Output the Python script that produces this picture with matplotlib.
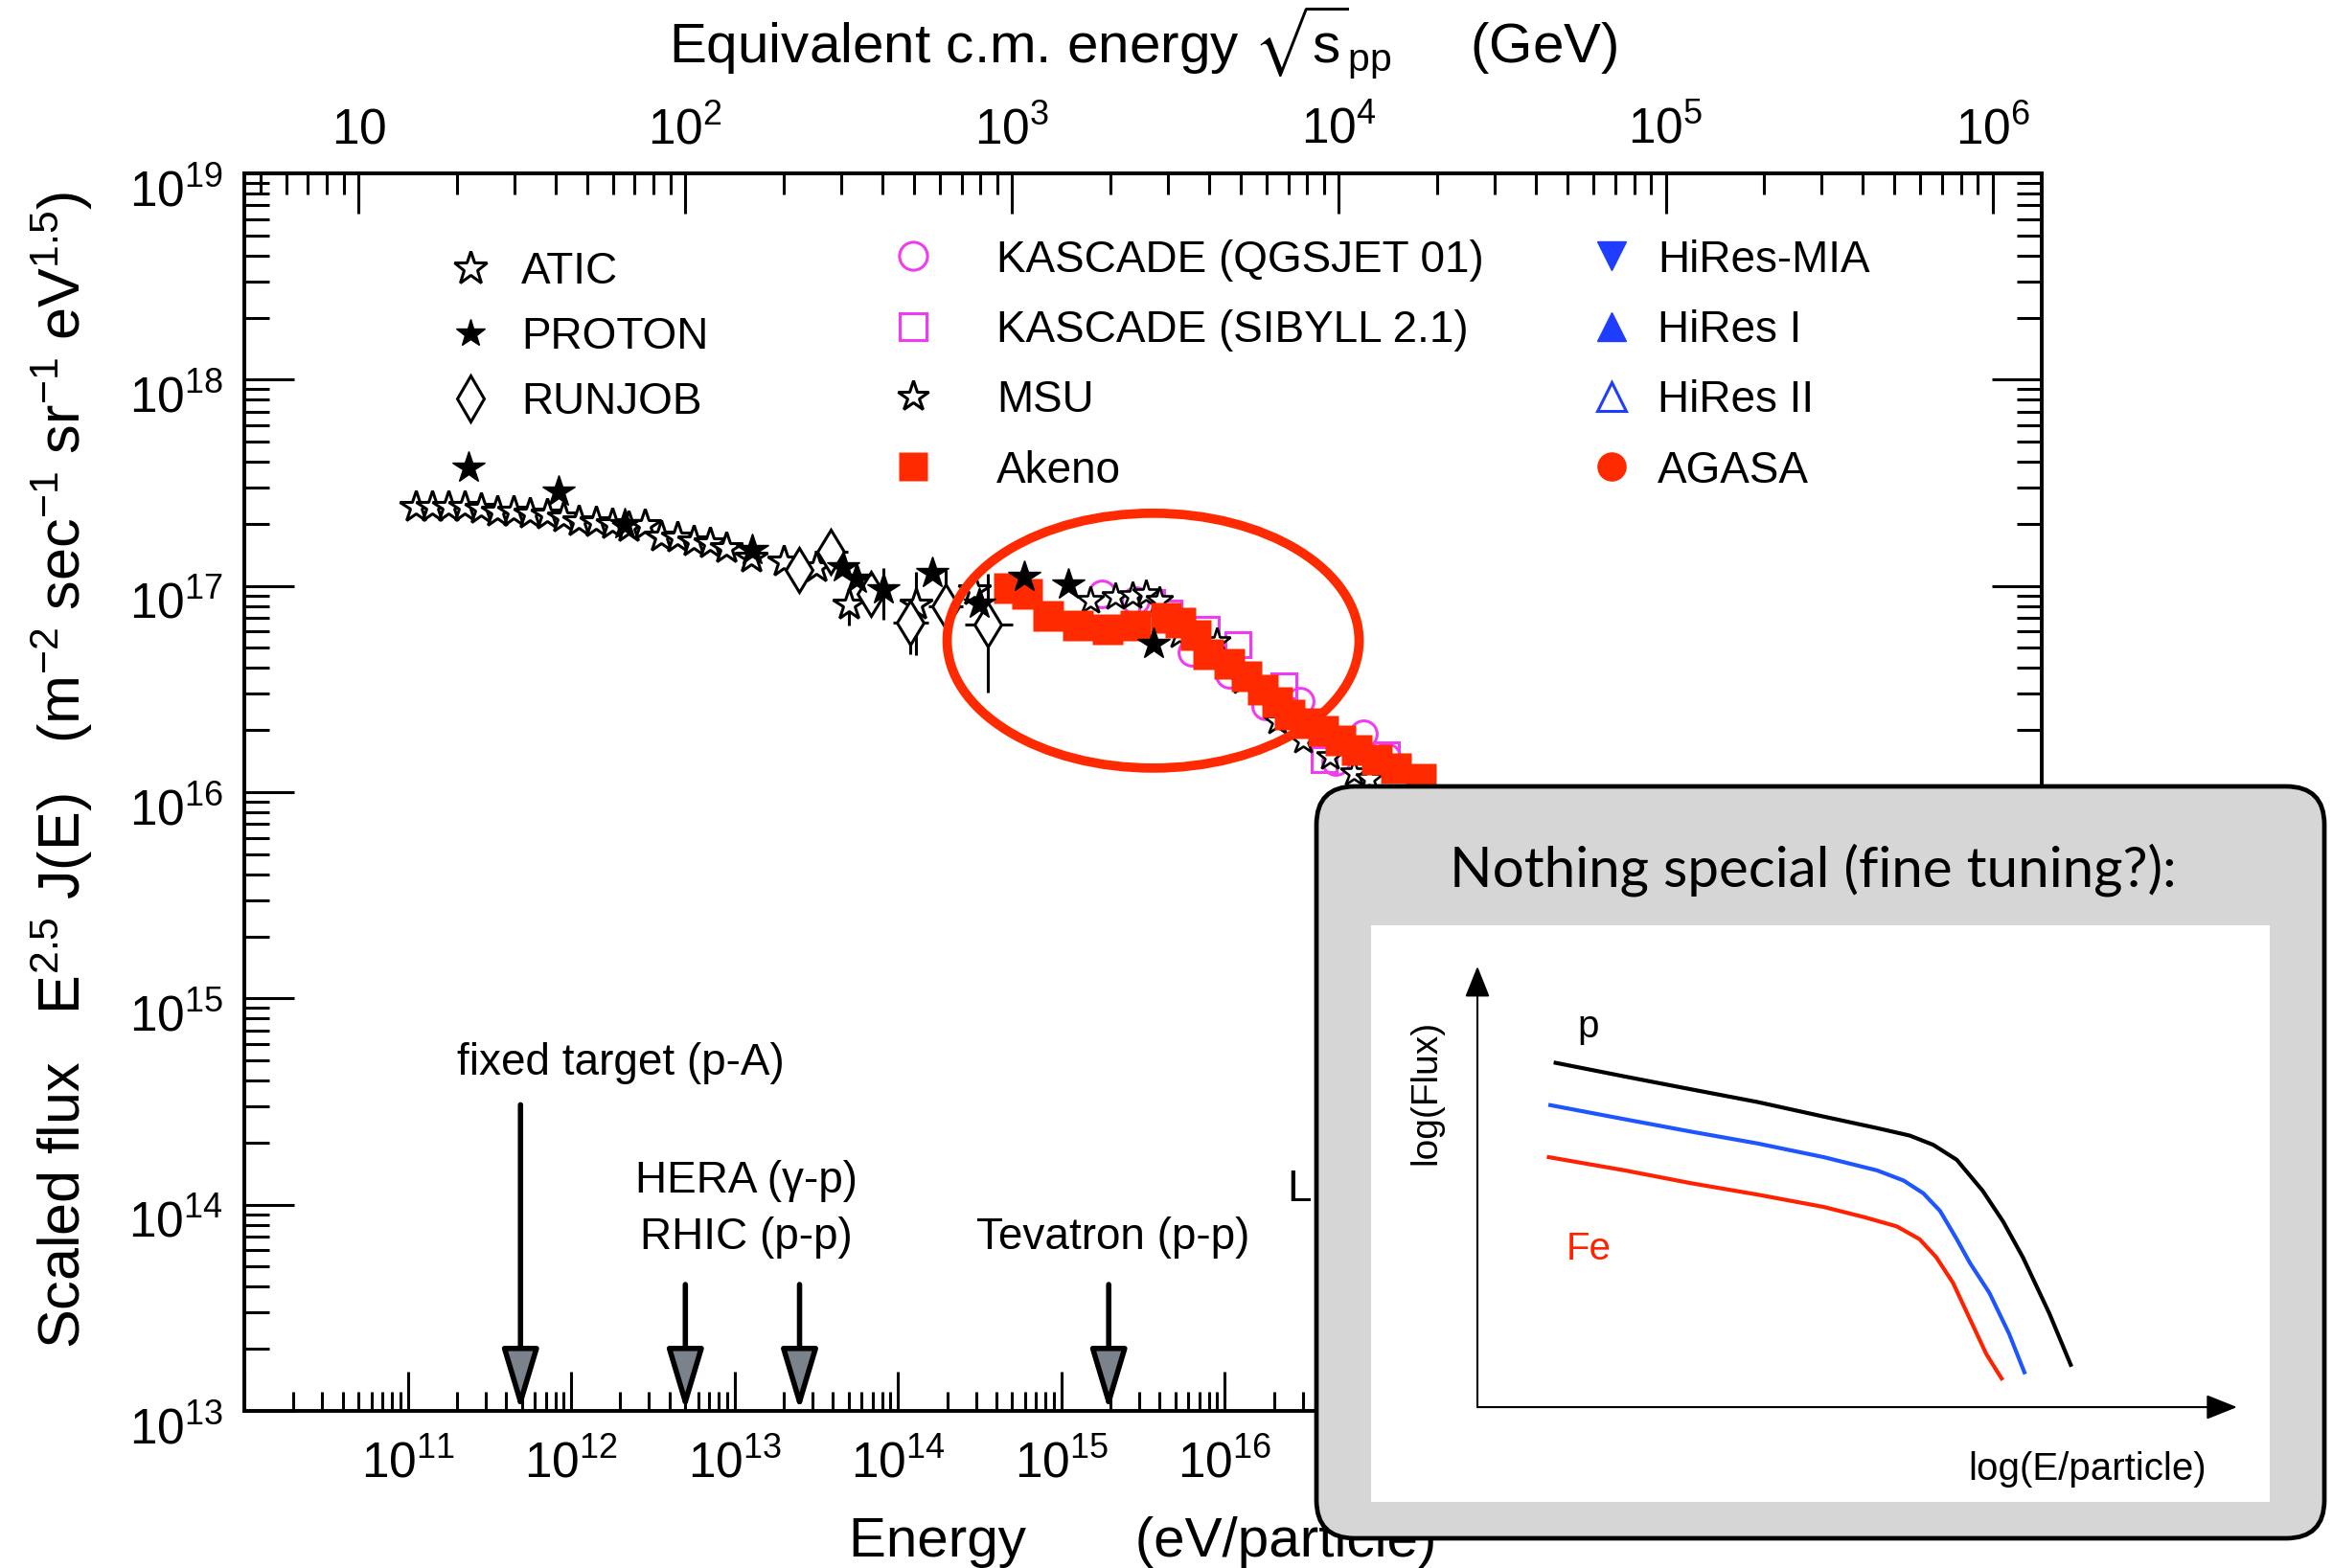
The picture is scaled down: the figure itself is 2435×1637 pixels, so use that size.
import numpy as np
import matplotlib
matplotlib.use("Agg")
import matplotlib.pyplot as plt
from matplotlib import ticker, transforms
from matplotlib.lines import Line2D
from matplotlib.patches import Ellipse, FancyBboxPatch

plt.rcParams["font.family"] = ["Liberation Sans", "DejaVu Sans"]
plt.rcParams["mathtext.fontset"] = "custom"
plt.rcParams["mathtext.rm"] = "Liberation Sans"
plt.rcParams["mathtext.it"] = "Liberation Sans:italic"
plt.rcParams["mathtext.bf"] = "Liberation Sans:bold"
plt.rcParams["mathtext.sf"] = "Liberation Sans"
plt.rcParams["mathtext.default"] = "regular"
plt.rcParams["mathtext.fallback"] = "stixsans"

# ---- data (E in eV/particle, scaled flux E^2.5 J(E)) ----
atic_E = [1.12e11, 1.41e11, 1.78e11, 2.24e11, 2.82e11, 3.55e11, 4.47e11, 5.62e11,
          7.08e11, 8.91e11, 1.12e12, 1.41e12, 1.78e12, 2.24e12, 2.82e12, 3.55e12,
          4.47e12, 5.62e12, 7.08e12, 8.91e12, 1.26e13, 2.00e13, 3.16e13]
atic_F = [2.42e17, 2.42e17, 2.42e17, 2.42e17, 2.37e17, 2.30e17, 2.29e17, 2.25e17,
          2.23e17, 2.15e17, 2.07e17, 2.04e17, 2.00e17, 1.94e17, 1.98e17, 1.74e17,
          1.71e17, 1.65e17, 1.62e17, 1.53e17, 1.38e17, 1.31e17, 1.24e17]
# last ATIC points, with error bars
atic_hi_E = [5.0e13, 1.29e14, 2.95e14]
atic_hi_F = [8.1e16, 8.1e16, 9.5e16]
atic_hi_lo = [6.4e16, 4.6e16, 9.5e16]
atic_hi_up = [8.1e16, 1.17e17, 9.5e16]

proton_E = [2.36e11, 8.43e11, 2.12e12, 1.29e13, 4.63e13, 5.55e13, 8.13e13,
            1.63e14, 3.14e14, 5.89e14, 1.11e15, 3.68e15]
proton_F = [3.76e17, 2.88e17, 2.00e17, 1.50e17, 1.24e17, 1.08e17, 9.66e16,
            1.16e17, 8.24e16, 1.11e17, 1.02e17, 5.27e16]
proton_lo = [3.76e17, 2.88e17, 2.00e17, 1.50e17, 1.24e17, 1.08e17, 6.89e16,
             1.16e17, 8.24e16, 1.11e17, 1.02e17, 5.27e16]
proton_up = [3.76e17, 2.88e17, 2.00e17, 1.50e17, 1.24e17, 1.08e17, 1.22e17,
             1.16e17, 8.24e16, 1.11e17, 1.02e17, 5.27e16]

runjob_E = [2.47e13, 3.90e13, 6.79e13, 1.19e14, 1.95e14, 3.56e14]
runjob_F = [1.20e17, 1.46e17, 9.16e16, 6.65e16, 7.94e16, 6.53e16]
runjob_Elo = [2.47e13, 3.09e13, 6.79e13, 9.31e13, 1.53e14, 2.56e14]
runjob_Ehi = [2.47e13, 4.95e13, 6.79e13, 1.53e14, 2.51e14, 5.04e14]
runjob_Flo = [1.20e17, 1.46e17, 7.66e16, 4.66e16, 5.18e16, 3.03e16]
runjob_Fhi = [1.20e17, 1.46e17, 1.06e17, 8.24e16, 1.20e17, 1.14e17]

kq_E = [1.78e15, 2.82e15, 6.31e15, 1.07e16, 1.78e16, 2.88e16, 4.79e16, 7.08e16, 9.77e16]
kq_F = [9.12e16, 8.51e16, 4.79e16, 3.72e16, 2.63e16, 2.75e16, 1.41e16, 1.91e16, 1.48e16]

ks_E = [3.55e15, 4.57e15, 7.71e15, 1.21e16, 2.29e16, 4.04e16, 9.70e16]
ks_F = [8.32e16, 7.40e16, 6.19e16, 5.18e16, 3.26e16, 1.44e16, 1.52e16]

msu_E = [1.50e15, 2.15e15, 2.72e15, 3.29e15, 3.98e15, 5.25e15, 8.91e15, 1.29e16,
         2.09e16, 3.02e16, 4.37e16, 6.17e16, 7.67e16]
msu_F = [8.53e16, 8.85e16, 8.99e16, 9.16e16, 8.53e16, 5.77e16, 5.37e16, 3.44e16,
         2.20e16, 1.78e16, 1.49e16, 1.24e16, 1.16e16]

akeno_E = [4.79e14, 6.17e14, 8.32e14, 1.26e15, 1.91e15, 2.82e15, 4.37e15, 5.37e15,
           6.61e15, 7.94e15, 1.07e16, 1.35e16, 1.70e16, 2.09e16, 2.51e16, 3.16e16,
           3.98e16, 5.13e16, 6.46e16, 8.51e16, 1.12e17, 1.58e17]
akeno_F = [9.73e16, 9.16e16, 7.14e16, 6.41e16, 6.19e16, 6.41e16, 7.01e16, 6.64e16,
           5.77e16, 4.66e16, 4.19e16, 3.63e16, 3.15e16, 2.72e16, 2.37e16, 2.16e16,
           1.98e16, 1.78e16, 1.60e16, 1.44e16, 1.31e16, 1.16e16]

# accelerator energies (lab frame)
collider_E = [4.9e11, 5.0e12, 2.5e13, 1.95e15, 9.8e16]
collider_top = [3.05e14, 4.1e13, 4.1e13, 4.1e13, 4.1e13]
collider_labels = ["fixed target (p-A)", "HERA (γ-p)", "RHIC (p-p)", "Tevatron (p-p)", "LHC (p-p)"]
label_E = [2.0e12, 1.18e13, 1.18e13, 2.07e15, 9.5e16]
label_F = [4.28e14, 1.15e14, 6.08e13, 6.08e13, 1.045e14]

# sketch in the inset (arbitrary log units)
p_u = [1.03, 1.94, 2.81, 3.69, 4.56, 5.26, 5.69, 6.00, 6.31, 6.65, 6.92, 7.18, 7.53, 7.81]
p_v = [7.81, 7.50, 7.21, 6.92, 6.59, 6.33, 6.16, 5.95, 5.61, 4.91, 4.21, 3.40, 2.12, 0.96]
mid_u = [0.96, 1.94, 2.81, 3.69, 4.56, 5.26, 5.61, 5.87, 6.09, 6.31, 6.48, 6.74, 7.00, 7.20]
mid_v = [6.85, 6.53, 6.25, 5.98, 5.67, 5.37, 5.14, 4.85, 4.45, 3.81, 3.28, 2.59, 1.66, 0.79]
fe_u = [0.94, 1.94, 2.81, 3.69, 4.56, 5.09, 5.52, 5.82, 6.04, 6.26, 6.48, 6.70, 6.90]
fe_v = [5.67, 5.37, 5.08, 4.82, 4.54, 4.31, 4.10, 3.81, 3.40, 2.82, 2.01, 1.20, 0.65]

RED = "#ff2a00"
MAGENTA = "#f03cf0"
BLUE = "#1f3dff"
W, H = 2435, 1637


def errs(v, lo, hi):
    v, lo, hi = np.array(v), np.array(lo), np.array(hi)
    return [v - lo, hi - v]


def pow10(v, pos):
    return rf"$10^{{{int(round(np.log10(v)))}}}$"


fig = plt.figure(figsize=(W / 100, H / 100), dpi=100)
ax = fig.add_axes([255 / W, 1 - 1473 / H, 1876 / W, 1292 / H])
ax.set_xscale("log")
ax.set_yscale("log")
ax.set_xlim(1e10, 1e21)
ax.set_ylim(1e13, 1e19)

star_open = dict(marker="*", mfc="white", mec="black", mew=2.2)

ax.plot(atic_E, atic_F, ls="none", ms=25, zorder=3, **star_open)
ax.errorbar(atic_hi_E, atic_hi_F, yerr=errs(atic_hi_F, atic_hi_lo, atic_hi_up),
            fmt="*", ms=25, mfc="white", mec="black", mew=2.2, ecolor="black",
            elinewidth=2.2, capsize=0, zorder=3)
ax.errorbar(runjob_E, runjob_F, xerr=errs(runjob_E, runjob_Elo, runjob_Ehi),
            yerr=errs(runjob_F, runjob_Flo, runjob_Fhi), fmt="d", ms=23,
            mfc="white", mec="black", mew=2.2, ecolor="black", elinewidth=2.2,
            capsize=0, zorder=3)
ax.plot(kq_E, kq_F, ls="none", marker="o", ms=20, mfc="none", mec=MAGENTA, mew=2.2, zorder=4)
ax.plot(ks_E, ks_F, ls="none", marker="s", ms=19, mfc="none", mec=MAGENTA, mew=2.2, zorder=4)
ax.plot(msu_E, msu_F, ls="none", marker="*", ms=21, mfc="white", mec="black", mew=1.9, zorder=4)
ax.plot(akeno_E, akeno_F, ls="none", marker="s", ms=23, color=RED, mec="none", zorder=5)
ax.errorbar(proton_E, proton_F, yerr=errs(proton_F, proton_lo, proton_up), fmt="*",
            ms=25, color="black", ecolor="black", elinewidth=2.2, capsize=0, zorder=6)

# the knee highlight
ax.add_patch(Ellipse((0.5056, 0.6224), 0.2292, 0.2059, transform=ax.transAxes,
                     fill=False, ec=RED, lw=7, zorder=7))

# accelerator arrows
for e, top in zip(collider_E, collider_top):
    ax.annotate("", xy=(e, 1e13), xytext=(e, top),
                arrowprops=dict(arrowstyle="-|>,head_length=2.0,head_width=0.6",
                                mutation_scale=20, lw=4, fc="#7a828b", ec="black",
                                shrinkA=0, shrinkB=0), zorder=3)
for s, e, f in zip(collider_labels, label_E, label_F):
    ax.text(e, f, s, ha="center", va="baseline", fontsize=33)

# axes styling
for sp in ax.spines.values():
    sp.set_linewidth(2.8)
ax.xaxis.set_major_locator(ticker.FixedLocator([10.0 ** k for k in range(10, 22)]))
ax.xaxis.set_minor_locator(ticker.LogLocator(base=10, subs=np.arange(2, 10), numticks=100))
ax.xaxis.set_major_formatter(ticker.FuncFormatter(
    lambda v, p: pow10(v, p) if 11 <= round(np.log10(v)) <= 20 else ""))
ax.xaxis.set_minor_formatter(ticker.NullFormatter())
ax.yaxis.set_major_locator(ticker.FixedLocator([10.0 ** k for k in range(13, 20)]))
ax.yaxis.set_minor_locator(ticker.LogLocator(base=10, subs=np.arange(2, 10), numticks=100))
ax.yaxis.set_major_formatter(ticker.FuncFormatter(pow10))
ax.yaxis.set_minor_formatter(ticker.NullFormatter())

ax.tick_params(which="both", direction="in", top=False, right=True, width=2.2, labelsize=37)
ax.tick_params(axis="x", which="major", length=29.5, pad=22)
ax.tick_params(axis="x", which="minor", length=14.4)
ax.tick_params(axis="y", which="major", length=37.4, pad=15.8)
ax.tick_params(axis="y", which="minor", length=18.7)

secax = ax.secondary_xaxis("top", functions=(lambda e: np.sqrt(2.0 * np.abs(e) / 1e9),
                                             lambda s: s ** 2 * 1e9 / 2.0))
secax.spines["top"].set_linewidth(2.8)
secax.xaxis.set_major_locator(ticker.FixedLocator([10.0 ** k for k in range(1, 7)]))
secax.xaxis.set_minor_locator(ticker.LogLocator(base=10, subs=np.arange(2, 10), numticks=100))
secax.xaxis.set_major_formatter(ticker.FuncFormatter(
    lambda v, p: "$10$" if round(np.log10(v)) == 1 else pow10(v, p)))
secax.xaxis.set_minor_formatter(ticker.NullFormatter())
secax.tick_params(which="both", direction="in", width=2.2, labelsize=37)
secax.tick_params(which="major", length=30, pad=14.4)
secax.tick_params(which="minor", length=15.6)

secax.set_xlabel(r"Equivalent c.m. energy $\sqrt{s}_{pp}$     (GeV)", fontsize=42)
secax.xaxis.label.set_va("baseline")
secax.xaxis.set_label_coords(0.5, 1 + (181 - 66) / 1292, transform=ax.transAxes)

ax.set_xlabel("Energy       (eV/particle)", fontsize=42)
ax.xaxis.label.set_va("baseline")
ax.xaxis.set_label_coords(0.5, -(1625 - 1473) / 1292)

ax.set_ylabel(r"Scaled flux   E$^{2.5}$ J(E)   (m$^{-2}$ sec$^{-1}$ sr$^{-1}$ eV$^{1.5}$)",
              fontsize=44)
ax.yaxis.label.set_va("baseline")
ax.yaxis.label.set_ha("center")
ax.yaxis.set_label_coords((84 - 255) / 1876, 1 - (804 - 181) / 1292)

# legend, three columns
leg_kw = dict(loc="upper left", frameon=False, fontsize=33, borderpad=0, borderaxespad=0,
              handlelength=1.0, numpoints=1, bbox_transform=fig.transFigure)
col1 = [Line2D([], [], ls="none", ms=26, **star_open),
        Line2D([], [], ls="none", marker="*", ms=22, color="black"),
        Line2D([], [], ls="none", marker="d", ms=24, mfc="white", mec="black", mew=2.2)]
col2 = [Line2D([], [], ls="none", marker="o", ms=21, mfc="none", mec=MAGENTA, mew=2.2),
        Line2D([], [], ls="none", marker="s", ms=20, mfc="none", mec=MAGENTA, mew=2.2),
        Line2D([], [], ls="none", ms=24, **star_open),
        Line2D([], [], ls="none", marker="s", ms=22, color=RED, mec="none")]
col3 = [Line2D([], [], ls="none", marker="v", ms=21, color=BLUE),
        Line2D([], [], ls="none", marker="^", ms=21, color=BLUE),
        Line2D([], [], ls="none", marker="^", ms=21, mfc="none", mec=BLUE, mew=2.2),
        Line2D([], [], ls="none", marker="o", ms=21, color=RED)]
leg1 = ax.legend(col1, ["ATIC", "PROTON", "RUNJOB"], bbox_to_anchor=(468 / W, 1 - 262 / H),
                 handletextpad=0.66, labelspacing=0.525, **leg_kw)
ax.add_artist(leg1)
leg2 = ax.legend(col2, ["KASCADE (QGSJET 01)", "KASCADE (SIBYLL 2.1)", "MSU", "Akeno"],
                 bbox_to_anchor=(930 / W, 1 - 249.5 / H), handletextpad=1.40,
                 labelspacing=0.64, **leg_kw)
ax.add_artist(leg2)
ax.legend(col3, ["HiRes-MIA", "HiRes I", "HiRes II", "AGASA"],
          bbox_to_anchor=(1659.5 / W, 1 - 249.5 / H), handletextpad=0.54,
          labelspacing=0.64, **leg_kw)

# inset box with the sketch
box = FancyBboxPatch((13.74, 0.31), 10.52, 7.85, boxstyle="round,pad=0,rounding_size=0.4",
                     transform=fig.dpi_scale_trans, fc="#d6d6d6", ec="black", lw=3.4, zorder=5)
fig.add_artist(box)
fig.text(1892 / W, 1 - 925.5 / H, "Nothing special (fine tuning?):", ha="center",
         va="baseline", fontsize=42, family="Lato", zorder=7)

ax_in = fig.add_axes([1431 / W, 1 - 1568 / H, 938 / W, 602 / H], zorder=6)
ax_in.set_facecolor("white")
for sp in ax_in.spines.values():
    sp.set_visible(False)
ax_in.set_xticks([])
ax_in.set_yticks([])
ax_in.set_xlim(-1.40, 10.43)
ax_in.set_ylim(-2.15, 10.93)
ax_in.plot(p_u, p_v, color="black", lw=3.0)
ax_in.plot(mid_u, mid_v, color="#1f55ff", lw=3.0)
ax_in.plot(fe_u, fe_v, color="#ff2200", lw=3.0)
arrow = dict(arrowstyle="-|>,head_length=1.0,head_width=0.4", mutation_scale=20, lw=1.5,
             color="black", shrinkA=0, shrinkB=0)
ax_in.annotate("", xy=(10, 0), xytext=(0, 0), arrowprops=arrow)
ax_in.annotate("", xy=(0, 10), xytext=(0, 0), arrowprops=arrow)
ax_in.text(1.46, 8.63, "p", ha="center", va="center", fontsize=29)
ax_in.text(1.46, 3.58, "Fe", ha="center", va="center", fontsize=29, color="#ff2200")
ax_in.text(-0.68, 7.15, "log(Flux)", rotation=90, ha="center", va="center", fontsize=28)
ax_in.text(8.03, -1.65, "log(E/particle)", ha="center", va="baseline", fontsize=29)

# y tick labels sit with the top of "10" at the tick
fig.canvas.draw()
shift = transforms.ScaledTranslation(0, -34 / 100, fig.dpi_scale_trans)
for lab in ax.get_yticklabels():
    lab.set_verticalalignment("baseline")
    lab.set_transform(lab.get_transform() + shift)

fig.savefig("out.png", dpi=100)
